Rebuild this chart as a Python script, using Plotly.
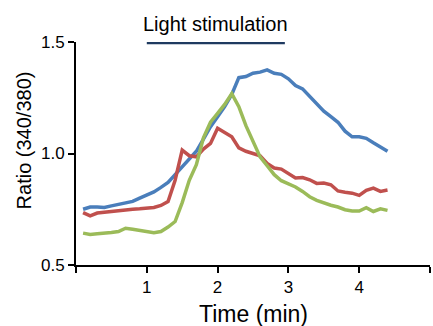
import plotly.graph_objects as go

time_min = [0.1, 0.2, 0.3, 0.4, 0.5, 0.6, 0.7, 0.8, 0.9, 1.0,
            1.1, 1.2, 1.3, 1.4, 1.5, 1.6, 1.7, 1.8, 1.9, 2.0,
            2.1, 2.2, 2.3, 2.4, 2.5, 2.6, 2.7, 2.8, 2.9, 3.0,
            3.1, 3.2, 3.3, 3.4, 3.5, 3.6, 3.7, 3.8, 3.9, 4.0,
            4.1, 4.2, 4.3, 4.4]

blue_ratio = [0.750, 0.760, 0.760, 0.758, 0.765, 0.772, 0.778, 0.785, 0.800, 0.812,
              0.828, 0.848, 0.870, 0.905, 0.940, 0.975, 1.010, 1.065, 1.120, 1.165,
              1.210, 1.265, 1.340, 1.345, 1.360, 1.365, 1.375, 1.360, 1.355, 1.335,
              1.305, 1.290, 1.255, 1.220, 1.190, 1.165, 1.140, 1.100, 1.075, 1.075,
              1.068, 1.048, 1.030, 1.010]

red_ratio = [0.735, 0.720, 0.733, 0.737, 0.740, 0.742, 0.748, 0.750, 0.752, 0.755,
             0.758, 0.767, 0.785, 0.880, 1.015, 0.990, 0.985, 1.020, 1.045, 1.113,
             1.095, 1.075, 1.025, 1.010, 1.000, 0.990, 0.955, 0.935, 0.930, 0.910,
             0.890, 0.892, 0.882, 0.866, 0.868, 0.860, 0.832, 0.826, 0.822, 0.812,
             0.835, 0.845, 0.830, 0.836]

green_ratio = [0.643, 0.637, 0.640, 0.642, 0.646, 0.650, 0.665, 0.660, 0.655, 0.649,
               0.645, 0.650, 0.670, 0.695, 0.780, 0.880, 0.950, 1.070, 1.140, 1.180,
               1.220, 1.268, 1.210, 1.125, 1.050, 0.985, 0.945, 0.905, 0.878, 0.865,
               0.850, 0.830, 0.806, 0.790, 0.777, 0.768, 0.760, 0.748, 0.742, 0.742,
               0.757, 0.740, 0.752, 0.745]

stim_time = [1.0, 2.95]
stim_level = [1.5, 1.5]

x_ticks = [0, 1, 2, 3, 4, 5]
x_tick_text = ["", "1", "2", "3", "4", ""]
y_ticks = [0.5, 1.0, 1.5]
y_tick_text = ["0.5", "1.0", "1.5"]

FONT = "Arial, Liberation Sans, sans-serif"

fig = go.Figure()
for vals, col in [(blue_ratio, "#4A7EBB"), (red_ratio, "#C0504D"), (green_ratio, "#9BBB59")]:
    fig.add_trace(go.Scatter(x=time_min, y=vals, mode="lines",
                             line=dict(color=col, width=3.5), showlegend=False))

fig.add_trace(go.Scatter(x=stim_time, y=stim_level, mode="lines",
                         line=dict(color="#1F3A60", width=4.5), cliponaxis=False,
                         showlegend=False))

fig.add_annotation(x=sum(stim_time) / 2, xref="x", y=1.081, yref="paper",
                   text="Light stimulation", showarrow=False,
                   font=dict(family=FONT, size=20, color="black"),
                   xanchor="center", yanchor="middle")
fig.add_annotation(x=-0.146, xref="paper", y=0.56, yref="paper",
                   text="Ratio (340/380)", showarrow=False, textangle=-90,
                   font=dict(family=FONT, size=20, color="black"),
                   xanchor="center", yanchor="middle")
fig.add_annotation(x=0.5, xref="paper", y=-0.22, yref="paper",
                   text="Time (min)", showarrow=False,
                   font=dict(family=FONT, size=23, color="black"),
                   xanchor="center", yanchor="middle")

fig.update_xaxes(range=[0, 5], tickvals=x_ticks, ticktext=x_tick_text,
                 showline=True, linecolor="black", linewidth=2,
                 ticks="outside", ticklen=6, tickwidth=2, tickcolor="black",
                 showgrid=False, zeroline=False,
                 tickfont=dict(family=FONT, size=17, color="black"))
fig.update_yaxes(range=[0.5, 1.5], tickvals=y_ticks, ticktext=y_tick_text,
                 showline=True, linecolor="black", linewidth=2,
                 ticks="outside", ticklen=6, tickwidth=2, tickcolor="black",
                 showgrid=False, zeroline=False,
                 tickfont=dict(family=FONT, size=17, color="black"))

fig.update_layout(width=433, height=326,
                  margin=dict(l=76, r=3, t=42, b=61),
                  paper_bgcolor="white", plot_bgcolor="white",
                  font=dict(family=FONT))

fig.write_html("out.html", config={"displayModeBar": False},
               post_script="document.body.style.margin='0';document.body.style.overflow='hidden';")
